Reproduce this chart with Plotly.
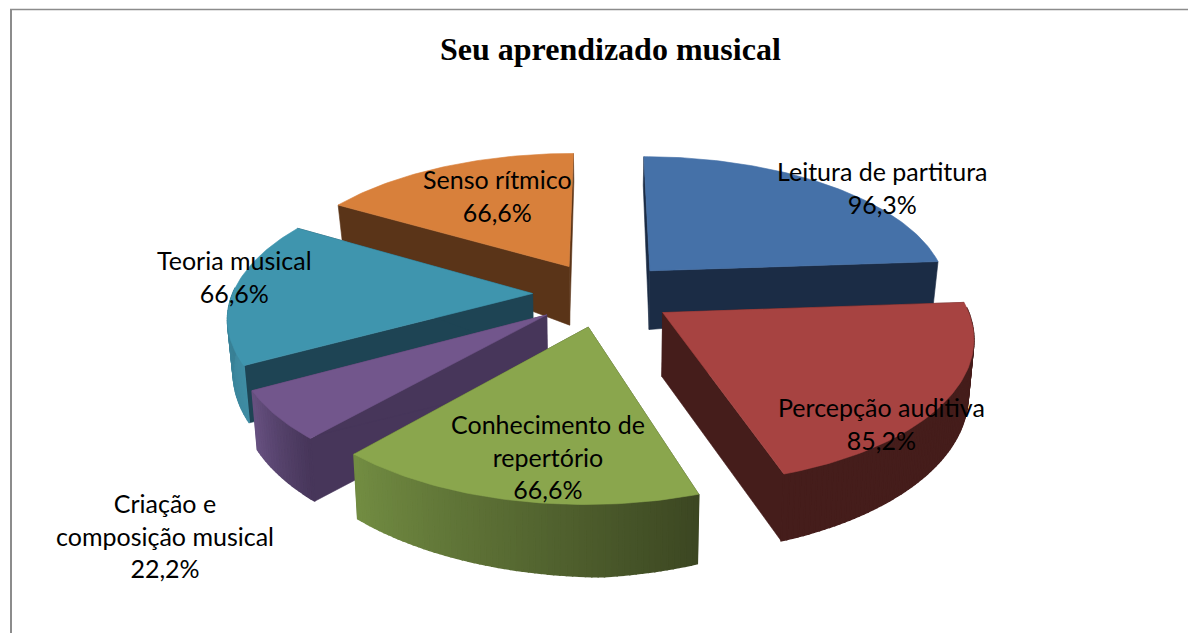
import math
import plotly.graph_objects as go

# ---- data ----
categories = ["Leitura de partitura", "Percepção auditiva", "Conhecimento de<br>repertório",
              "Criação e<br>composição musical", "Teoria musical", "Senso rítmico"]
values = [96.3, 85.2, 66.6, 22.2, 66.6, 66.6]
value_labels = ["96,3%", "85,2%", "66,6%", "22,2%", "66,6%", "66,6%"]
title_text = "Seu aprendizado musical"

# ---- styles ----
top_colors = ["#4571A8", "#A74341", "#8AA64D", "#72568C", "#3F95AE", "#D8803B"]
cut_colors = ["#1B2C45", "#451D1B", "#3C4722", "#47365A", "#1E4454", "#5A3418"]
rim_start = ["#1B2C45", "#451D1B", "#3C4722", "#47365A", "#3F8CA3", "#D8803B"]
rim_end = ["#2A4468", "#451D1B", "#728C42", "#66507F", "#2E6D80", "#B86D30"]
label_pos = [(882, 187), (881, 423), (548, 456), (165, 535), (234, 276), (497, 195)]

# ---- projection model ----
CX, CY = 603.0, 294.0
R, A = 300.0, 138.5
P, Q = 0.15, 0.155
EXPLODE = 0.235


def top(x, y):
    return CX + R * x / (1 - P * y), CY + A * y / (1 - Q * y)


def bottom(x, y):
    sx, sy = top(x, y)
    h = 64 + 18 * y - 9 * y * y - 12 * abs(x)
    return sx + (CX - sx) * 0.015, sy + h


def mix(a, b, t):
    ca = [int(a[i:i + 2], 16) for i in (1, 3, 5)]
    cb = [int(b[i:i + 2], 16) for i in (1, 3, 5)]
    return "rgb(%d,%d,%d)" % tuple(round(u + (v - u) * t) for u, v in zip(ca, cb))


fig = go.Figure()


def poly(points, color, width=0.6):
    xs = [p[0] for p in points] + [points[0][0]]
    ys = [p[1] for p in points] + [points[0][1]]
    fig.add_trace(go.Scatter(x=xs, y=ys, mode="lines", fill="toself", fillcolor=color,
                             line=dict(color=color, width=width), hoverinfo="skip", showlegend=False))


total = sum(values)
slices = []
angle = 0.0
for i, v in enumerate(values):
    span = 360.0 * v / total
    slices.append((i, angle, angle + span))
    angle += span


def draw_slice(i, a0, a1):
    mid = math.radians((a0 + a1) / 2)
    tx, ty = EXPLODE * math.sin(mid), -EXPLODE * math.cos(mid)
    n = max(8, int(a1 - a0))
    rim = []
    front = []
    for k in range(n + 1):
        deg = a0 + (a1 - a0) * k / n
        th = math.radians(deg)
        rim.append((tx + math.sin(th), ty - math.cos(th)))
        front.append(math.cos(th) < 0.03)
    # cut faces, which hide any wall that faces away from the viewer
    for end in (rim[0], rim[-1]):
        poly([top(tx, ty), top(*end), bottom(*end), bottom(tx, ty)], cut_colors[i])
    # outer wall, near side only
    for k in range(n):
        if front[k] or front[k + 1]:
            p, q = rim[k], rim[k + 1]
            poly([top(*p), top(*q), bottom(*q), bottom(*p)],
                 mix(rim_start[i], rim_end[i], k / max(1, n - 1)), 1.5)
    # top surface
    poly([top(tx, ty)] + [top(*p) for p in rim], top_colors[i])


for idx in (5, 0, 4, 3, 1, 2):
    draw_slice(*slices[idx])

annotations = [dict(x=610, y=49, text="<b>%s</b>" % title_text, showarrow=False, xref="x", yref="y",
                    font=dict(family="Liberation Serif", size=32, color="black"))]
for c, lab, (x, y) in zip(categories, value_labels, label_pos):
    annotations.append(dict(x=x, y=y, text=c + "<br>" + lab, showarrow=False, xref="x", yref="y",
                            align="center", font=dict(family="Lato", size=25, color="black")))

# the page adds an 8 px margin round the figure, so the ranges start at 8
fig.update_layout(
    width=1188, height=625, margin=dict(l=0, r=0, t=0, b=0),
    paper_bgcolor="white", plot_bgcolor="white", showlegend=False,
    xaxis=dict(range=[8, 1196], visible=False, fixedrange=True),
    yaxis=dict(range=[633, 8], visible=False, fixedrange=True),
    annotations=annotations,
    shapes=[
        dict(type="line", xref="x", yref="y", x0=10, x1=1196, y0=9.5, y1=9.5, line=dict(color="#8C8C8C", width=1.5)),
        dict(type="line", xref="x", yref="y", x0=11, x1=11, y0=9, y1=633, line=dict(color="#8C8C8C", width=2)),
    ],
)
fig.write_html("out.html")
